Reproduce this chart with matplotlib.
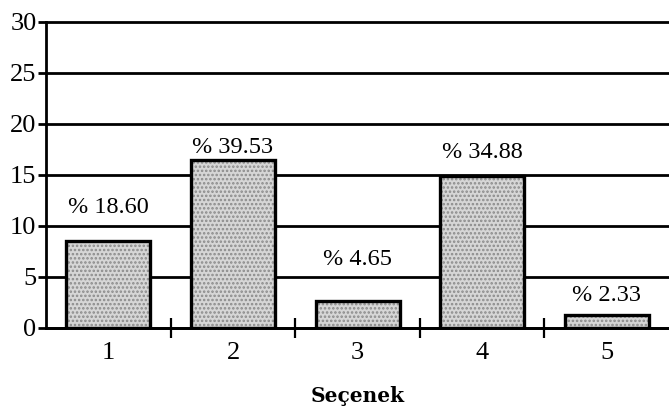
import matplotlib
matplotlib.use("Agg")
import matplotlib.pyplot as plt

# values
secenek = ["1", "2", "3", "4", "5"]
deger = [8.5, 16.5, 2.6, 14.9, 1.3]
yuzde = ["% 18.60", "% 39.53", "% 4.65", "% 34.88", "% 2.33"]
etiket_y = [11.8, 17.7, 6.7, 17.2, 3.2]
yticks = [0, 5, 10, 15, 20, 25, 30]

plt.rcParams['font.family'] = ['Liberation Serif', 'DejaVu Serif']
plt.rcParams['hatch.linewidth'] = 1.2

fig = plt.figure(figsize=(6.69, 4.12), dpi=100)
ax = fig.add_axes([0.069, 0.204, 0.931, 0.743])

x = list(range(1, len(secenek) + 1))

# horizontal grid lines, black and heavy
for t in yticks:
    ax.axhline(t, color='black', lw=2, zorder=1, clip_on=False)

# stippled fill, then black outline on top
ax.bar(x, deger, width=0.675, color='#d6d6d6', edgecolor='#8a8a8a',
       hatch='....', linewidth=0, zorder=2)
ax.bar(x, deger, width=0.675, fill=False, edgecolor='black',
       linewidth=2.4, zorder=3)

for xi, yi, s in zip(x, etiket_y, yuzde):
    ax.text(xi, yi, s, ha='center', va='center', fontsize=17.5,
            family='Liberation Serif', zorder=4)

ax.set_xlim(0.5, 5.5)
ax.set_ylim(0, 30)

ax.set_yticks(yticks)
ax.set_yticklabels([str(t) for t in yticks])
ax.tick_params(axis='y', direction='out', length=6, width=2, pad=1,
               labelsize=19)

# boundary ticks crossing the axis, labels at the category centres
ax.set_xticks([1.5, 2.5, 3.5, 4.5])
ax.set_xticklabels([])
ax.tick_params(axis='x', which='major', direction='inout', length=15,
               width=1.6)
ax.set_xticks(x, minor=True)
ax.set_xticklabels(secenek, minor=True)
ax.tick_params(axis='x', which='minor', length=0, pad=10, labelsize=19)

ax.set_xlabel("Seçenek", fontsize=14.5, fontweight='bold', labelpad=16,
              family='DejaVu Serif')

for side in ['top', 'right']:
    ax.spines[side].set_visible(False)
ax.spines['left'].set_linewidth(2)
ax.spines['bottom'].set_linewidth(2)

fig.savefig("out.png", dpi=100)
